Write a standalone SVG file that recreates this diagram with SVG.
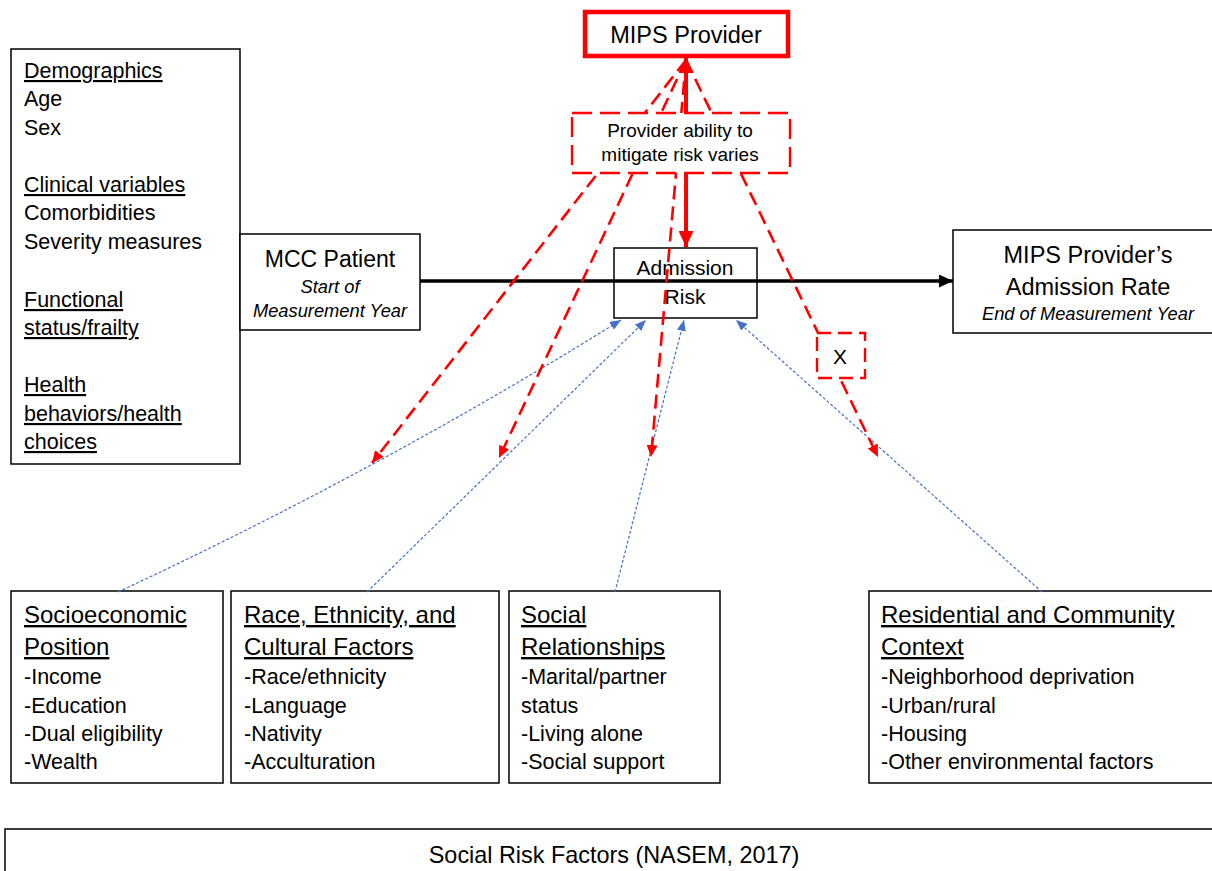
<svg xmlns="http://www.w3.org/2000/svg" width="1212" height="871" viewBox="0 0 1212 871">
<style>
text{font-family:"Liberation Sans",Arial,sans-serif;fill:#000}
.box{fill:#fff;stroke:#000;stroke-width:1.5}
.b20{font-size:21.5px}
.h24{font-size:24px;text-decoration:underline}
.u20{font-size:21.5px;text-decoration:underline}
.it{font-style:italic;font-size:18.3px}
.red{stroke:#f00;fill:none;stroke-width:2.6;stroke-dasharray:14 7}
.blue{stroke:#4472c4;fill:none;stroke-width:1.2;stroke-dasharray:3 2}
</style>
<defs>
<marker id="ra" markerUnits="userSpaceOnUse" markerWidth="12" markerHeight="11" refX="12" refY="5.5" orient="auto"><path d="M0,0 L12,5.5 L0,11 z" fill="#f00"/></marker>
<marker id="rt" markerUnits="userSpaceOnUse" markerWidth="16" markerHeight="15" refX="16" refY="7.5" orient="auto-start-reverse"><path d="M0,0 L16,7.5 L0,15 z" fill="#f00"/></marker>
<marker id="ba" markerUnits="userSpaceOnUse" markerWidth="11" markerHeight="9" refX="11" refY="4.5" orient="auto"><path d="M0,0 L11,4.5 L0,9 z" fill="#4472c4"/></marker>
<marker id="ka" markerUnits="userSpaceOnUse" markerWidth="14" markerHeight="13" refX="14" refY="6.5" orient="auto"><path d="M0,0 L14,6.5 L0,13 z" fill="#000"/></marker>
</defs>
<rect width="1212" height="871" fill="#fff"/>

<g id="patient-characteristics">
<rect class="box" x="11" y="49" width="229" height="415"/>
<text class="u20" x="24" y="78">Demographics</text>
<text class="b20" x="24" y="106">Age</text>
<text class="b20" x="24" y="135">Sex</text>
<text class="u20" x="24" y="192">Clinical variables</text>
<text class="b20" x="24" y="220">Comorbidities</text>
<text class="b20" x="24" y="249">Severity measures</text>
<text class="u20" x="24" y="307">Functional</text>
<text class="u20" x="24" y="335">status/frailty</text>
<text class="u20" x="24" y="392">Health</text>
<text class="u20" x="24" y="421">behaviors/health</text>
<text class="u20" x="24" y="449">choices</text>
</g>

<g id="mcc-patient">
<rect class="box" x="240" y="234" width="180" height="96"/>
<text x="330" y="267" text-anchor="middle" font-size="23">MCC Patient</text>
<text class="it" x="330" y="293" text-anchor="middle">Start of</text>
<text class="it" x="330" y="317" text-anchor="middle">Measurement Year</text>
</g>

<g id="admission-rate">
<rect class="box" x="953" y="230" width="270" height="103"/>
<text x="1088" y="263" text-anchor="middle" font-size="23.5">MIPS Provider’s</text>
<text x="1088" y="295" text-anchor="middle" font-size="23.5">Admission Rate</text>
<text class="it" x="1088" y="320" text-anchor="middle" font-size="18.6">End of Measurement Year</text>
</g>

<g id="admission-risk">
<rect class="box" x="614" y="248" width="143" height="70"/>
<text x="685" y="275" text-anchor="middle" font-size="21">Admission</text>
<text x="685" y="304" text-anchor="middle" font-size="21">Risk</text>
</g>

<g id="socioeconomic">
<rect class="box" x="11" y="591" width="212" height="192"/>
<text class="h24" x="24" y="623">Socioeconomic</text>
<text class="h24" x="24" y="655">Position</text>
<text class="b20" x="24" y="684">-Income</text>
<text class="b20" x="24" y="713">-Education</text>
<text class="b20" x="24" y="741">-Dual eligibility</text>
<text class="b20" x="24" y="769">-Wealth</text>
</g>

<g id="race-ethnicity">
<rect class="box" x="231" y="591" width="268" height="192"/>
<text class="h24" x="244" y="623">Race, Ethnicity, and</text>
<text class="h24" x="244" y="655">Cultural Factors</text>
<text class="b20" x="244" y="684">-Race/ethnicity</text>
<text class="b20" x="244" y="713">-Language</text>
<text class="b20" x="244" y="741">-Nativity</text>
<text class="b20" x="244" y="769">-Acculturation</text>
</g>

<g id="social-relationships">
<rect class="box" x="509" y="591" width="211" height="192"/>
<text class="h24" x="521" y="623">Social</text>
<text class="h24" x="521" y="655">Relationships</text>
<text class="b20" x="521" y="684">-Marital/partner</text>
<text class="b20" x="521" y="713">status</text>
<text class="b20" x="521" y="741">-Living alone</text>
<text class="b20" x="521" y="769">-Social support</text>
</g>

<g id="residential-community">
<rect class="box" x="869" y="591" width="360" height="192"/>
<text class="h24" x="881" y="623">Residential and Community</text>
<text class="h24" x="881" y="655">Context</text>
<text class="b20" x="881" y="684">-Neighborhood deprivation</text>
<text class="b20" x="881" y="713">-Urban/rural</text>
<text class="b20" x="881" y="741">-Housing</text>
<text class="b20" x="881" y="769">-Other environmental factors</text>
</g>

<g id="social-risk-factors">
<rect class="box" x="5" y="829" width="1220" height="60"/>
<text x="614" y="863" text-anchor="middle" font-size="23.4">Social Risk Factors (NASEM, 2017)</text>
</g>

<g id="connectors">
<path class="blue" d="M118,592 Q380,470 621,320" marker-end="url(#ba)"/>
<path class="blue" d="M367,592 L646,320" marker-end="url(#ba)"/>
<path class="blue" d="M615,592 L684,320" marker-end="url(#ba)"/>
<path class="blue" d="M1042,592 L736,320" marker-end="url(#ba)"/>
<line x1="420" y1="281" x2="953" y2="281" stroke="#000" stroke-width="3.5" marker-end="url(#ka)"/>
<line class="red" x1="686" y1="60" x2="372" y2="463" marker-end="url(#ra)"/>
<line class="red" x1="686" y1="60" x2="499" y2="458" marker-end="url(#ra)"/>
<line class="red" x1="686" y1="60" x2="651" y2="457" marker-end="url(#ra)"/>
<line class="red" x1="686" y1="60" x2="878" y2="457" marker-end="url(#ra)"/>
<line x1="686" y1="57" x2="686" y2="247" stroke="#f00" stroke-width="4" marker-start="url(#rt)" marker-end="url(#rt)"/>
</g>

<g id="provider-ability">
<rect x="572" y="113" width="218" height="60" fill="#fff" stroke="#f00" stroke-width="2.4" stroke-dasharray="20 8"/>
<text x="680" y="137" text-anchor="middle" font-size="19">Provider ability to</text>
<text x="680" y="161" text-anchor="middle" font-size="19">mitigate risk varies</text>
</g>

<g id="x-marker">
<rect x="817" y="333" width="48" height="45" fill="#fff" stroke="#f00" stroke-width="2.4" stroke-dasharray="14 7"/>
<text x="840" y="364" text-anchor="middle" font-size="21">X</text>
</g>

<g id="mips-provider">
<rect x="585" y="12" width="203" height="44" fill="#fff" stroke="#f00" stroke-width="4.5"/>
<text x="686" y="43" text-anchor="middle" font-size="23.5">MIPS Provider</text>
</g>
</svg>
